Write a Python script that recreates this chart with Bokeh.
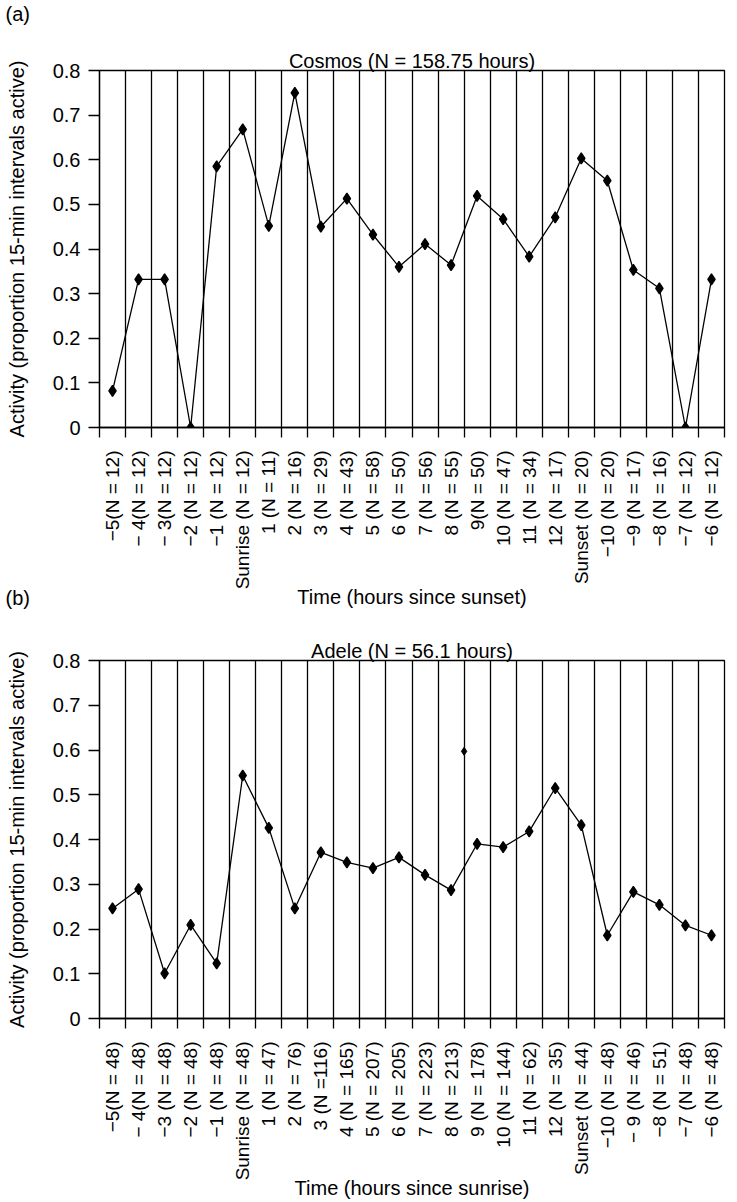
from bokeh.plotting import figure
from bokeh.models import Range1d, FixedTicker, Title, Label, ColumnDataSource
from bokeh.layouts import column
from bokeh.embed import file_html
from bokeh.resources import INLINE

FONT = "Liberation Sans"
M = "\u2212"

# ---- data ----
cosmos_labels = [f"{M}5(N = 12)", f"{M} 4(N = 12)", f"{M} 3(N = 12)", f"{M}2 (N = 12)", f"{M}1 (N = 12)",
                 "Sunrise (N = 12)", "1 (N = 11)", "2 (N = 16)", "3 (N = 29)", "4 (N = 43)",
                 "5 (N = 58)", "6 (N = 50)", "7 (N = 56)", "8 (N = 55)", "9(N = 50)",
                 "10 (N = 47)", "11 (N = 34)", "12 (N = 17)", "Sunset (N = 20)", f"{M}10 (N = 20)",
                 f"{M}9 (N = 17)", f"{M}8 (N = 16)", f"{M}7 (N = 12)", f"{M}6 (N = 12)"]
cosmos_activity = [0.082, 0.332, 0.332, 0.0, 0.585, 0.668, 0.452, 0.750, 0.450, 0.513,
                   0.432, 0.360, 0.411, 0.364, 0.519, 0.467, 0.383, 0.471, 0.603, 0.553,
                   0.353, 0.312, 0.0, 0.332]

adele_labels = [f"{M}5(N = 48)", f"{M} 4(N = 48)", f"{M}3 (N = 48)", f"{M}2 (N = 48)", f"{M}1 (N = 48)",
                "Sunrise (N = 48)", "1 (N = 47)", "2 (N = 76)", "3 (N =116)", "4 (N = 165)",
                "5 (N = 207)", "6 (N = 205)", "7 (N = 223)", "8 (N = 213)", "9 (N = 178)",
                "10 (N = 144)", "11 (N = 62)", "12 (N = 35)", "Sunset (N = 44)", f"{M}10 (N = 48)",
                f"{M} 9 (N = 46)", f"{M}8 (N = 51)", f"{M}7 (N = 48)", f"{M}6 (N = 48)"]
adele_activity = [0.246, 0.289, 0.101, 0.209, 0.123, 0.543, 0.426, 0.246, 0.371, 0.349,
                  0.336, 0.360, 0.321, 0.287, 0.390, 0.383, 0.418, 0.515, 0.432, 0.186,
                  0.283, 0.254, 0.208, 0.186]
# stray point printed on the boundary between "8" and "9"
adele_stray_boundary = ["8 (N = 213)", "9 (N = 178)"]
adele_stray_value = [0.597]

y_ticks = [0, 0.1, 0.2, 0.3, 0.4, 0.5, 0.6, 0.7, 0.8]


def make_panel(labels, values, title, xlabel, height, top, bottom):
    n = len(labels)
    centers = [i + 0.5 for i in range(n)]
    bounds = list(range(n + 1))
    p = figure(width=737, height=height, output_backend="svg", toolbar_location=None,
               title=None, x_range=Range1d(0, n), y_range=Range1d(0, 0.8),
               min_border_left=99, min_border_right=13, min_border_top=top,
               min_border_bottom=bottom)
    p.background_fill_color = "white"
    p.border_fill_color = "white"
    p.outline_line_color = "black"
    p.outline_line_width = 1.3

    p.add_layout(Title(text=title, align="center", text_font=FONT, text_font_size="20px",
                       text_font_style="normal", text_color="black", standoff=-3), "above")

    xa = p.xaxis[0]
    xa.ticker = FixedTicker(ticks=centers, minor_ticks=bounds)
    xa.major_label_overrides = {c: lab for c, lab in zip(centers, labels)}
    xa.major_label_orientation = 1.5707963267948966
    xa.major_tick_out = 0
    xa.major_tick_in = 0
    xa.minor_tick_out = 10
    xa.minor_tick_in = 0
    xa.minor_tick_line_color = "black"
    xa.minor_tick_line_width = 1.3
    xa.major_label_standoff = 13
    xa.major_label_text_font = FONT
    xa.major_label_text_font_size = "19px"
    xa.major_label_text_color = "black"
    xa.axis_label = xlabel
    xa.axis_label_text_font = FONT
    xa.axis_label_text_font_size = "20px"
    xa.axis_label_text_font_style = "normal"
    xa.axis_label_text_color = "black"
    xa.axis_label_standoff = -6
    xa.axis_line_color = "black"
    xa.axis_line_width = 1.3

    ya = p.yaxis[0]
    ya.ticker = FixedTicker(ticks=y_ticks)
    ya.major_label_overrides = {t: ("0" if t == 0 else f"{t:g}") for t in y_ticks}
    ya.major_tick_out = 11
    ya.major_tick_in = 0
    ya.minor_tick_out = 0
    ya.minor_tick_in = 0
    ya.major_tick_line_color = "black"
    ya.major_tick_line_width = 1.3
    ya.major_label_standoff = 8
    ya.major_label_text_font = FONT
    ya.major_label_text_font_size = "20px"
    ya.major_label_text_color = "black"
    ya.axis_label = "Activity (proportion 15-min intervals active)"
    ya.axis_label_text_font = FONT
    ya.axis_label_text_font_size = "20px"
    ya.axis_label_text_font_style = "normal"
    ya.axis_label_text_color = "black"
    ya.axis_label_standoff = 22
    ya.axis_line_color = "black"
    ya.axis_line_width = 1.3

    p.xgrid.ticker = FixedTicker(ticks=bounds[1:-1])
    p.xgrid.grid_line_color = "black"
    p.xgrid.grid_line_width = 1.3
    p.ygrid.grid_line_color = None

    src = ColumnDataSource(dict(x=centers, y=values))
    p.line("x", "y", source=src, line_color="black", line_width=1.3)
    p.scatter("x", "y", source=src, marker="diamond", size=11, line_width=1.3,
              fill_color="black", line_color="black")
    return p


def panel_tag(text, x, y):
    return Label(x=x, y=y, x_units="screen", y_units="screen", text=text,
                 text_font=FONT, text_font_size="20px", text_color="black",
                 text_baseline="top", text_align="left")


p1 = make_panel(cosmos_labels, cosmos_activity, "Cosmos (N = 158.75 hours)",
                "Time (hours since sunset)", 633, 70, 205)
p2 = make_panel(adele_labels, adele_activity, "Adele (N = 56.1 hours)",
                "Time (hours since sunrise)", 590, 48, 184)

p1.add_layout(panel_tag("(a)", -94, 47), "above")
p1.add_layout(panel_tag("(b)", -94, 47), "below")

# second panel's empty top strip overlaps the first panel's blank bottom strip
p2.border_fill_color = None
p2.margin = (-21, 0, 0, 0)

stray_x = [adele_labels.index(adele_stray_boundary[1])]
p2.scatter(stray_x, adele_stray_value, marker="diamond", size=8,
           fill_color="black", line_color="black")

layout = column(p1, p2, spacing=0)
open("out.html", "w").write(file_html(layout, INLINE))
